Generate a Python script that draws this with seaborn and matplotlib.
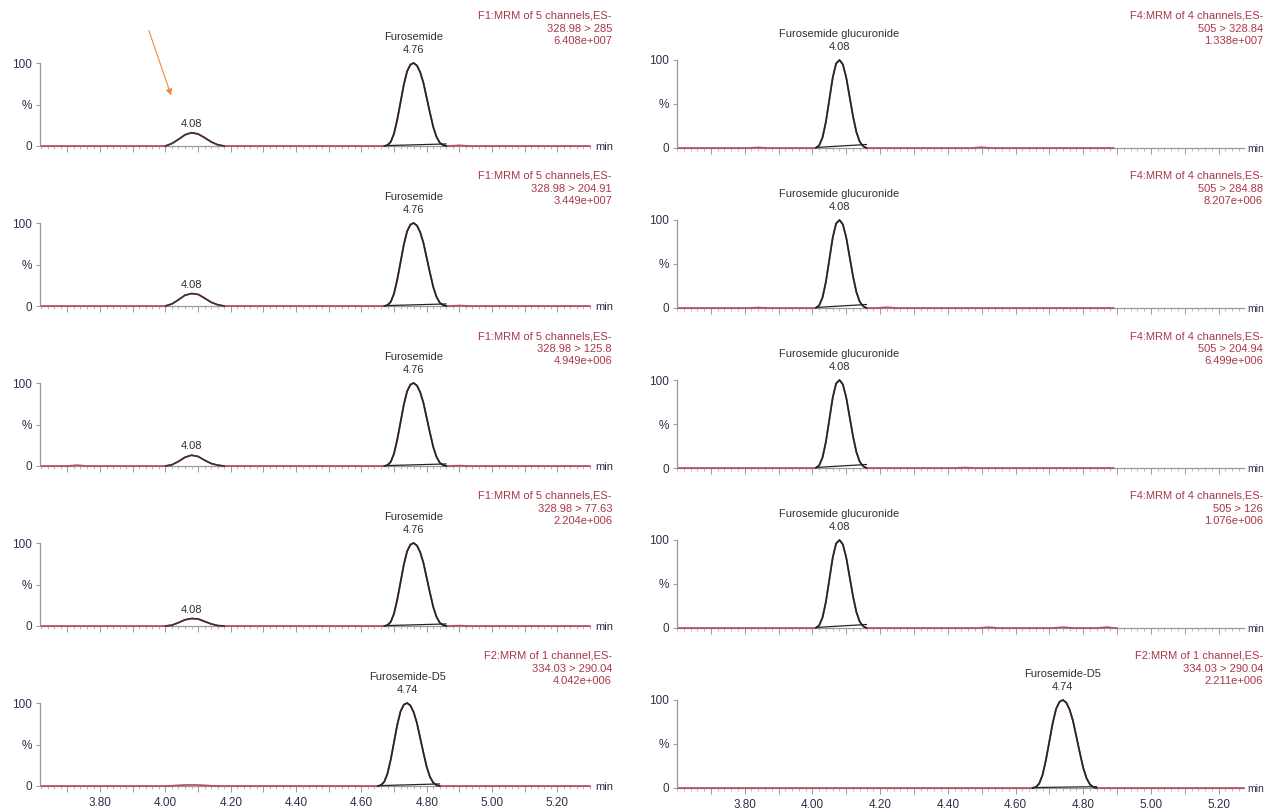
import matplotlib
matplotlib.use("Agg")
import matplotlib.pyplot as plt
from matplotlib.patches import FancyArrowPatch
from matplotlib.ticker import FixedLocator, MultipleLocator
import pandas as pd
import seaborn as sns

sns.set_theme(style="white")
plt.rcParams['font.family'] = ['Liberation Sans', 'DejaVu Sans']

W, H = 1265, 809

# ---------------- data ----------------
# Peak shapes: time offset from apex (min) and relative intensity (%)
MAIN_OFFSETS = [-0.09, -0.08, -0.07, -0.06, -0.05, -0.04, -0.03, -0.02, -0.01, 0.0,
                0.01, 0.02, 0.03, 0.04, 0.05, 0.06, 0.07, 0.08, 0.09, 0.10]
MAIN_PCT = [0, 1, 5, 15, 32, 53, 74, 90, 98, 100,
            97, 89, 76, 58, 40, 23, 11, 4, 1, 0]

GLUC_OFFSETS = [-0.07, -0.06, -0.05, -0.04, -0.03, -0.02, -0.01, 0.0,
                0.01, 0.02, 0.03, 0.04, 0.05, 0.06, 0.07, 0.08]
GLUC_PCT = [0, 3, 12, 30, 55, 80, 96, 100, 95, 80, 58, 36, 18, 7, 2, 0]

MINOR_OFFSETS = [-0.08, -0.06, -0.04, -0.02, 0.0, 0.02, 0.04, 0.06, 0.08, 0.10]
MINOR_PCT_ROWS = [
    [0, 3.0, 8.0, 13.5, 16.0, 14.5, 10.0, 5.0, 1.5, 0],
    [0, 2.5, 7.5, 13.0, 15.0, 14.0, 9.5, 4.5, 1.5, 0],
    [0, 1.5, 5.5, 10.5, 13.0, 11.5, 7.0, 3.0, 1.0, 0],
    [0, 1.0, 4.0, 7.5, 9.0, 8.5, 5.5, 2.5, 0.5, 0],
    [0, 0.3, 0.8, 1.2, 1.3, 1.2, 0.8, 0.3, 0.1, 0],
]

# Retention times (min)
RT_FUROSEMIDE = 4.76
RT_GLUCURONIDE = 4.08
RT_D5 = 4.74

# Small baseline humps: (time, %)
LEFT_BUMPS = [[(4.90, 0.8)], [(4.90, 0.6)], [(3.73, 1.0), (4.90, 0.5)], [(4.90, 0.5)], []]
RIGHT_BUMPS = [[(3.84, 0.6), (4.50, 0.9)], [(3.84, 0.5), (4.22, 0.8)], [(4.45, 0.5)],
               [(4.52, 0.9), (4.74, 0.9), (4.87, 1.0)], []]

LEFT_HEADERS = [
    ("F1:MRM of 5 channels,ES-", "328.98 > 285", "6.408e+007"),
    ("F1:MRM of 5 channels,ES-", "328.98 > 204.91", "3.449e+007"),
    ("F1:MRM of 5 channels,ES-", "328.98 > 125.8", "4.949e+006"),
    ("F1:MRM of 5 channels,ES-", "328.98 > 77.63", "2.204e+006"),
    ("F2:MRM of 1 channel,ES-", "334.03 > 290.04", "4.042e+006"),
]
RIGHT_HEADERS = [
    ("F4:MRM of 4 channels,ES-", "505 > 328.84", "1.338e+007"),
    ("F4:MRM of 4 channels,ES-", "505 > 284.88", "8.207e+006"),
    ("F4:MRM of 4 channels,ES-", "505 > 204.94", "6.499e+006"),
    ("F4:MRM of 4 channels,ES-", "505 > 126", "1.076e+006"),
    ("F2:MRM of 1 channel,ES-", "334.03 > 290.04", "2.211e+006"),
]

X_TICKS_MAJOR = [3.7, 3.8, 3.9, 4.0, 4.1, 4.2, 4.3, 4.4, 4.5, 4.6, 4.7, 4.8, 4.9, 5.0, 5.1, 5.2]
X_TICKS_LABELLED = ["3.80", "4.00", "4.20", "4.40", "4.60", "4.80", "5.00", "5.20"]

# ---------------- styling ----------------
RED_TRACE = "#b84a5c"
BLACK_TRACE = "#262626"
MINOR_TRACE = "#3e3034"
HEADER_RED = "#a83848"
AXIS_GRAY = "#9a9a9a"
TICK_TEXT = "#2f2f48"
LABEL_TEXT = "#303030"

fig = plt.figure(figsize=(W / 100, H / 100), dpi=100)


def px_fig(x, y):
    return x / W, 1 - y / H


def build_trace(t0, t1, peaks, bumps):
    pts = [(t0, 0.0), (t1, 0.0)]
    for apex, offs, pct in peaks:
        pts += [(apex + o, p) for o, p in zip(offs, pct)]
    for t, h in bumps:
        pts += [(t - 0.03, 0.0), (t, h), (t + 0.03, 0.0)]
    pts.sort()
    return pd.DataFrame(pts, columns=["time", "pct"])


def line(ax, df, color, lw, z):
    sns.lineplot(data=df, x="time", y="pct", ax=ax, color=color, lw=lw,
                 estimator=None, sort=False, legend=False, clip_on=False, zorder=z)


def style_axes(ax, xlim, bottom_row):
    ax.set_xlim(*xlim)
    ax.set_ylim(0, 100)
    for s in ("top", "right"):
        ax.spines[s].set_visible(False)
    for s in ("left", "bottom"):
        ax.spines[s].set_color(AXIS_GRAY)
        ax.spines[s].set_linewidth(0.9)
        ax.spines[s].set_zorder(1)
    ax.set_yticks([0, 50, 100])
    ax.set_yticklabels(["0", "%", "100"])
    ax.xaxis.set_major_locator(FixedLocator(X_TICKS_MAJOR))
    ax.xaxis.set_minor_locator(MultipleLocator(0.02))
    if bottom_row:
        labels = [f"{t:.2f}" if f"{t:.2f}" in X_TICKS_LABELLED else "" for t in X_TICKS_MAJOR]
        ax.set_xticklabels(labels)
    else:
        ax.set_xticklabels([])
    ax.tick_params(axis="x", which="major", direction="out", length=4, width=0.7,
                   color=AXIS_GRAY, labelsize=8.5, labelcolor=TICK_TEXT, pad=4, bottom=True)
    ax.tick_params(axis="x", which="minor", direction="out", length=2, width=0.6,
                   color="#b0b0b0", bottom=True)
    ax.tick_params(axis="y", direction="out", length=3, width=0.7, color=AXIS_GRAY,
                   labelsize=8.5, labelcolor=TICK_TEXT, pad=3, left=True)
    ax.set_xlabel("")
    ax.set_ylabel("")
    ax.patch.set_alpha(0)


def draw_peak(ax, apex, offs, pct, base0, base1):
    df = pd.DataFrame({"time": [apex + o for o in offs], "pct": pct})
    line(ax, df, BLACK_TRACE, 1.25, 4)
    bl = pd.DataFrame({"time": [apex + offs[0], apex + offs[-1]], "pct": [base0, base1]})
    line(ax, bl, BLACK_TRACE, 0.9, 4)


def peak_label(ax, apex, pct, lines):
    for i, txt in enumerate(reversed(lines)):
        ax.annotate(txt, xy=(apex, pct), xytext=(0, 9.5 + 9.4 * i),
                    textcoords="offset points", ha="center", va="center",
                    fontsize=8, color=LABEL_TEXT, annotation_clip=False)


def header(x_right, y_base, lines):
    for i, txt in enumerate(lines):
        fx, fy = px_fig(x_right, y_base + 12.5 * i)
        fig.text(fx, fy, txt, ha="right", va="baseline", fontsize=8, color=HEADER_RED)


LEFT_X0, LEFT_X1 = 40, 590
LEFT_XLIM = (3.616, 5.300)
RIGHT_X0, RIGHT_X1 = 677, 1244
RIGHT_XLIM = (3.600, 5.275)

for r in range(5):
    # ---------- left column ----------
    y0 = 146 + 160 * r
    y100 = 63 + 160 * r
    fx, fy = px_fig(LEFT_X0, y0)
    ax = fig.add_axes([fx, fy, (LEFT_X1 - LEFT_X0) / W, (y0 - y100) / H])
    if r < 4:
        main_rt, main_name = RT_FUROSEMIDE, "Furosemide"
    else:
        main_rt, main_name = RT_D5, "Furosemide-D5"
    peaks = [(main_rt, MAIN_OFFSETS, MAIN_PCT),
             (RT_GLUCURONIDE, MINOR_OFFSETS, MINOR_PCT_ROWS[r])]
    trace = build_trace(LEFT_XLIM[0] + 0.004, LEFT_XLIM[1], peaks, LEFT_BUMPS[r])
    line(ax, trace, RED_TRACE, 1.2, 3)
    draw_peak(ax, main_rt, MAIN_OFFSETS, MAIN_PCT, 0.4, 2.5)
    peak_label(ax, main_rt, max(MAIN_PCT), [main_name, f"{main_rt:.2f}"])
    if r < 4:
        sub = pd.DataFrame({"time": [RT_GLUCURONIDE + o for o in MINOR_OFFSETS],
                            "pct": MINOR_PCT_ROWS[r]})
        line(ax, sub, MINOR_TRACE, 1.2, 4)
        ax.annotate(f"{RT_GLUCURONIDE:.2f}", xy=(RT_GLUCURONIDE, max(MINOR_PCT_ROWS[r])),
                    xytext=(0, 6.5), textcoords="offset points", ha="center",
                    va="center", fontsize=8, color=LABEL_TEXT, annotation_clip=False)
    style_axes(ax, LEFT_XLIM, r == 4)
    mx, my = px_fig(LEFT_X1 + 5, y0 + 1)
    fig.text(mx, my, "min", ha="left", va="center", fontsize=8, color=TICK_TEXT)
    header(612, 19 + 160 * r, LEFT_HEADERS[r])

    # ---------- right column ----------
    y0 = 148 + 160 * r
    y100 = 60 + 160 * r
    fx, fy = px_fig(RIGHT_X0, y0)
    ax = fig.add_axes([fx, fy, (RIGHT_X1 - RIGHT_X0) / W, (y0 - y100) / H])
    if r < 4:
        rt, offs, pct, name = RT_GLUCURONIDE, GLUC_OFFSETS, GLUC_PCT, "Furosemide glucuronide"
        t_end = 4.89
        b0, b1 = 0.6, 4.0
    else:
        rt, offs, pct, name = RT_D5, MAIN_OFFSETS, MAIN_PCT, "Furosemide-D5"
        t_end = RIGHT_XLIM[1]
        b0, b1 = 0.5, 1.5
    trace = build_trace(RIGHT_XLIM[0] + 0.004, t_end, [(rt, offs, pct)], RIGHT_BUMPS[r])
    line(ax, trace, RED_TRACE, 1.2, 3)
    draw_peak(ax, rt, offs, pct, b0, b1)
    peak_label(ax, rt, max(pct), [name, f"{rt:.2f}"])
    style_axes(ax, RIGHT_XLIM, r == 4)
    mx, my = px_fig(RIGHT_X1 + 3, y0 + 1)
    fig.text(mx, my, "min", ha="left", va="center", fontsize=7.5, color=TICK_TEXT)
    header(1263, 19 + 160 * r, RIGHT_HEADERS[r])

# Arrow pointing at the 4.08 peak of the first trace
fig.add_artist(FancyArrowPatch(
    px_fig(148, 28), px_fig(172, 98), transform=fig.transFigure,
    arrowstyle="-|>", mutation_scale=9, color="#ec8a40", lw=0.8))

fig.savefig("out.png", dpi=100)
